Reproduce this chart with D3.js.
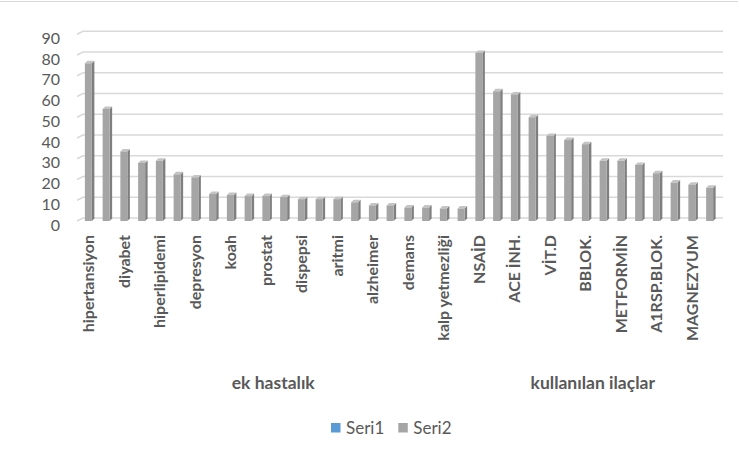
<!DOCTYPE html>
<html>
<head>
<meta charset="utf-8">
<script src="https://cdn.jsdelivr.net/npm/d3@7"></script>
<style>
  html, body { margin: 0; padding: 0; background: #fff; }
  svg { display: block; }
  text { font-family: Lato, "Open Sans", sans-serif; fill: #595959; }
</style>
</head>
<body>
<svg id="chart" width="739" height="450"></svg>
<script>
// Category labels (every other one is printed on the axis; the rest stay blank)
const groupNames = ["ek hastalık", "kullanılan ilaçlar"];
const group1Labels = ["hipertansiyon", "", "diyabet", "", "hiperlipidemi", "", "depresyon", "", "koah", "", "prostat", "",
  "dispepsi", "", "aritmi", "", "alzheimer", "", "demans", "", "kalp yetmezliği", ""];
const group2Labels = ["NSAİD", "", "ACE İNH.", "", "VİT.D", "", "BBLOK.", "", "METFORMİN", "", "A1RSP.BLOK.", "", "MAGNEZYUM", ""];

// Series values
const seri1 = [];
const seri2Group1 = [76, 54, 33.5, 28, 29, 22.5, 21, 13, 12.5, 12, 12, 11.5, 10.5, 10.5, 10.5, 9, 7.5, 7.5, 6.5, 6.5, 6, 6];
const seri2Group2 = [81, 62.5, 61, 50, 41, 39, 37, 29, 29, 27, 23, 18.5, 17.5, 16];

const yTicks = [0, 10, 20, 30, 40, 50, 60, 70, 80, 90];
const legendItems = [{ name: "Seri1", color: "#5b9bd5" }, { name: "Seri2", color: "#a5a5a5" }];

const labels = group1Labels.concat(group2Labels);
const seri2 = seri2Group1.concat(seri2Group2);
const groups = [
  { name: groupNames[0], start: 0, end: group1Labels.length },
  { name: groupNames[1], start: group1Labels.length, end: labels.length }
];

const svg = d3.select("#chart");

// Chart frame line at the top
svg.append("line").attr("x1", 0).attr("x2", 738).attr("y1", 1.5).attr("y2", 1.5)
  .attr("stroke", "#d9d9d9").attr("stroke-width", 1);

const x = d3.scaleBand().domain(d3.range(labels.length)).range([80, 719]).padding(0);
const y = d3.scaleLinear().domain([0, 90]).range([221, 34.25]);

// 3D depth of the back wall and of each bar
const wallDx = 6, wallDy = -3;
const barDx = 2.5, barDy = -2.5;
const barW = 7;

// Back-wall gridlines with the short floor/side segment at the left
const grid = svg.append("g");
yTicks.forEach(t => {
  const yy = y(t);
  grid.append("path")
    .attr("d", `M77,${yy} L${77 + wallDx},${yy + wallDy} L723,${yy + wallDy}`)
    .attr("fill", "none").attr("stroke", "#d9d9d9").attr("stroke-width", 1.5);
});

// Y tick labels
svg.append("g").selectAll("text").data(yTicks).join("text")
  .attr("x", 60).attr("y", d => y(d) + 3)
  .attr("text-anchor", "end").attr("dominant-baseline", "central")
  .style("font-size", "16px")
  .text(d => d);

// Bars: front face, right side and top
const bars = svg.append("g").selectAll("g").data(seri2).join("g");
const cx = i => x(i) + x.bandwidth() / 2;
bars.each(function (v, i) {
  const g = d3.select(this);
  const x0 = cx(i) - barW / 2 - 0.5, x1 = x0 + barW;
  const top = y(v), bot = y(0);
  g.append("path")
    .attr("d", `M${x1},${top} L${x1 + barDx},${top + barDy} L${x1 + barDx},${bot + barDy} L${x1},${bot} Z`)
    .attr("fill", "#7f7f7f");
  g.append("path")
    .attr("d", `M${x0},${top} L${x0 + barDx},${top + barDy} L${x1 + barDx},${top + barDy} L${x1},${top} Z`)
    .attr("fill", "#c4c4c4");
  g.append("rect")
    .attr("x", x0).attr("y", top).attr("width", barW).attr("height", bot - top)
    .attr("fill", "#a5a5a5");
});

// Category labels, rotated
svg.append("g").selectAll("text").data(labels).join("text")
  .attr("transform", (d, i) => `translate(${cx(i) + 5.5},235) rotate(-90)`)
  .attr("text-anchor", "end")
  .style("font-size", "16px").style("font-weight", "bold")
  .text(d => d);

// Group labels
svg.append("g").selectAll("text").data(groups).join("text")
  .attr("x", d => (x(d.start) + x(d.end - 1) + x.bandwidth()) / 2 - 2)
  .attr("y", 389)
  .attr("text-anchor", "middle")
  .style("font-size", "17.5px").style("font-weight", "bold")
  .text(d => d.name);

// Legend
const legend = svg.append("g");
let lx = 331;
legendItems.forEach(item => {
  legend.append("rect").attr("x", lx).attr("y", 423).attr("width", 9.5).attr("height", 9.5).attr("fill", item.color);
  const t = legend.append("text").attr("x", lx + 15).attr("y", 433.5)
    .style("font-size", "17px").text(item.name);
  lx += 15 + t.node().getComputedTextLength() + 14;
});
</script>
</body>
</html>
